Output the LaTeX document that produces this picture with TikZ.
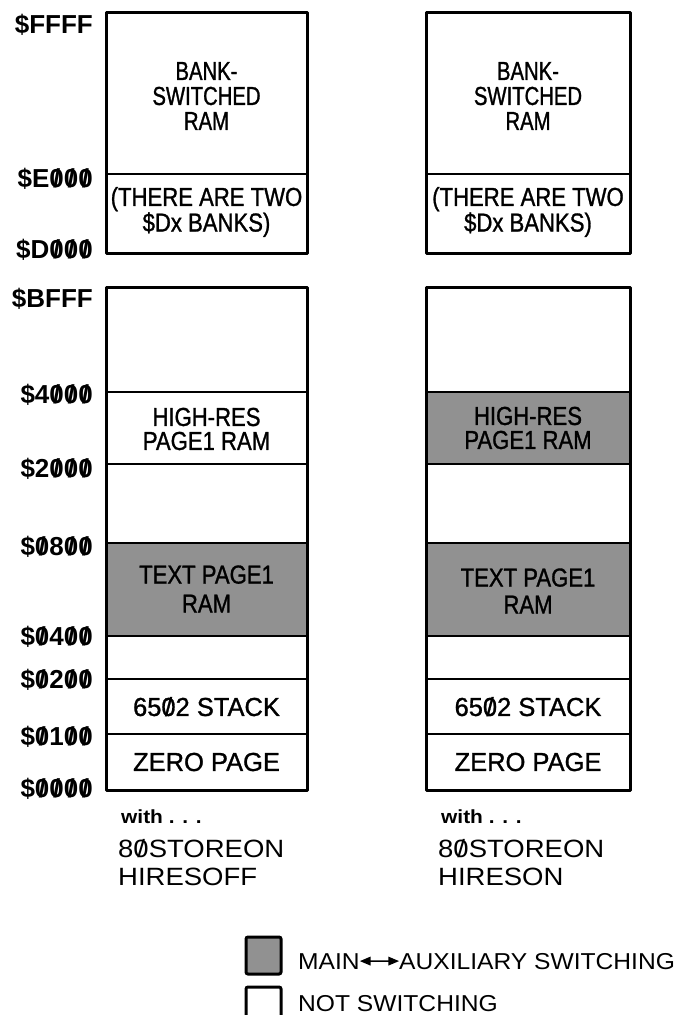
\documentclass[tikz,border=0pt]{standalone}
\usepackage{fontspec}
\setmainfont{Liberation Sans}
\newfontfamily\condfont[FakeStretch=0.85,FakeBold=1.1]{Liberation Sans}
\newfontfamily\narrowfont[FakeStretch=0.78,FakeBold=1.1]{Liberation Sans}
\newfontfamily\plainfont[FakeStretch=0.98,FakeBold=1.1]{Liberation Sans}
\newfontfamily\widefont[FakeStretch=1.1]{Liberation Sans}
\newfontfamily\keyfont[FakeStretch=1.07]{Liberation Sans}
\usetikzlibrary{arrows}
\newcommand{\sz}{\ooalign{0\cr\hidewidth/\hidewidth\cr}}
\tikzset{frame/.style={line width=3pt, line join=round}}
\tikzset{divider/.style={line width=1.6pt}}
\tikzset{switched/.style={fill=black!43}}
\tikzset{addr/.style={anchor=base east, inner sep=0pt, font=\bfseries\fontsize{26}{30}\selectfont}}
\tikzset{memtext/.style={align=center, inner sep=0pt, font=\condfont\fontsize{26}{24}\selectfont}}
\tikzset{banktext/.style={align=center, inner sep=0pt, font=\narrowfont\fontsize{26}{25}\selectfont}}
\tikzset{linetext/.style={inner sep=0pt, font=\plainfont\fontsize{26}{26}\selectfont}}
\tikzset{withtext/.style={anchor=base west, inner sep=0pt, font=\widefont\bfseries\fontsize{19}{20}\selectfont}}
\tikzset{modetext/.style={anchor=base west, inner sep=0pt, font=\widefont\fontsize{25}{28}\selectfont}}
\tikzset{keytext/.style={anchor=base west, inner sep=0pt, font=\keyfont\fontsize{23}{26}\selectfont}}
\tikzset{keybox/.style={draw, line width=3pt, rounded corners=2pt, minimum width=35pt, minimum height=37pt, inner sep=0pt}}

\begin{document}
\begin{tikzpicture}[x=1pt,y=-1pt]
\useasboundingbox (0,0) rectangle (684,1015);

\fill[switched] (106,543) rectangle (307,636);
\fill[switched] (426,392) rectangle (630,464);
\fill[switched] (426,543) rectangle (630,636);

\foreach \xa/\xb in {106/307,426/630}{
  \draw[divider] (\xa,174) -- (\xb,174);
  \foreach \yy in {392,464,543,636,679,734}
    \draw[divider] (\xa,\yy) -- (\xb,\yy);
  \draw[frame] (\xa,12) rectangle (\xb,253);
  \draw[frame] (\xa,287) rectangle (\xb,790);
}

% address labels
\foreach \lab/\yy in {{\$FFFF}/33, {\$E\sz\sz\sz}/187, {\$D\sz\sz\sz}/258,
  {\$BFFF}/307, {\$4\sz\sz\sz}/403, {\$2\sz\sz\sz}/477, {\$\sz8\sz\sz}/555,
  {\$\sz4\sz\sz}/645, {\$\sz2\sz\sz}/688, {\$\sz1\sz\sz}/745, {\$\sz\sz\sz\sz}/797}
  \node (a\yy) at (93,\yy)[addr]{\lab};

\node (bankL) at (206.5,96)[banktext]{BANK-\\SWITCHED\\RAM};
\node (dxL) at (206.5,212)[memtext]{(THERE ARE TWO\\\$Dx BANKS)};
\node (hiresL) at (206.5,429)[memtext]{HIGH-RES\\PAGE1 RAM};
\node (textL) at (206.5,589)[memtext, font=\condfont\fontsize{26}{29}\selectfont]{TEXT PAGE1\\RAM};
\node (stackL) at (206.5,707)[linetext]{65\sz2 STACK};
\node (zeroL) at (206.5,762)[linetext]{ZERO PAGE};

\node (bankR) at (528,96)[banktext]{BANK-\\SWITCHED\\RAM};
\node (dxR) at (528,212)[memtext]{(THERE ARE TWO\\\$Dx BANKS)};
\node (hiresR) at (528,428)[memtext]{HIGH-RES\\PAGE1 RAM};
\node (textR) at (528,591)[memtext, font=\condfont\fontsize{26}{27}\selectfont]{TEXT PAGE1\\RAM};
\node (stackR) at (528,707)[linetext]{65\sz2 STACK};
\node (zeroR) at (528,762)[linetext]{ZERO PAGE};

\node (withL) at (121,823)[withtext]{with . . .};
\node (storeL) at (118,857)[modetext]{8\sz STOREON};
\node (modeL) at (118,885)[modetext]{HIRESOFF};
\node (withR) at (441,823)[withtext]{with . . .};
\node (storeR) at (438,857)[modetext]{8\sz STOREON};
\node (modeR) at (438,885)[modetext]{HIRESON};

% key
\node (keyA) at (263.5,955.5)[keybox, switched]{};
\node (keyB) at (263.5,1005.5)[keybox]{};
\node (mainT) at (298,969)[keytext]{MAIN};
\node (auxT) at (399,969)[keytext]{AUXILIARY SWITCHING};
\node (notT) at (298,1011)[keytext]{NOT SWITCHING};
\draw[triangle 45-triangle 45, line width=1.5pt] (mainT.east) -- (auxT.west);
\end{tikzpicture}
\end{document}
